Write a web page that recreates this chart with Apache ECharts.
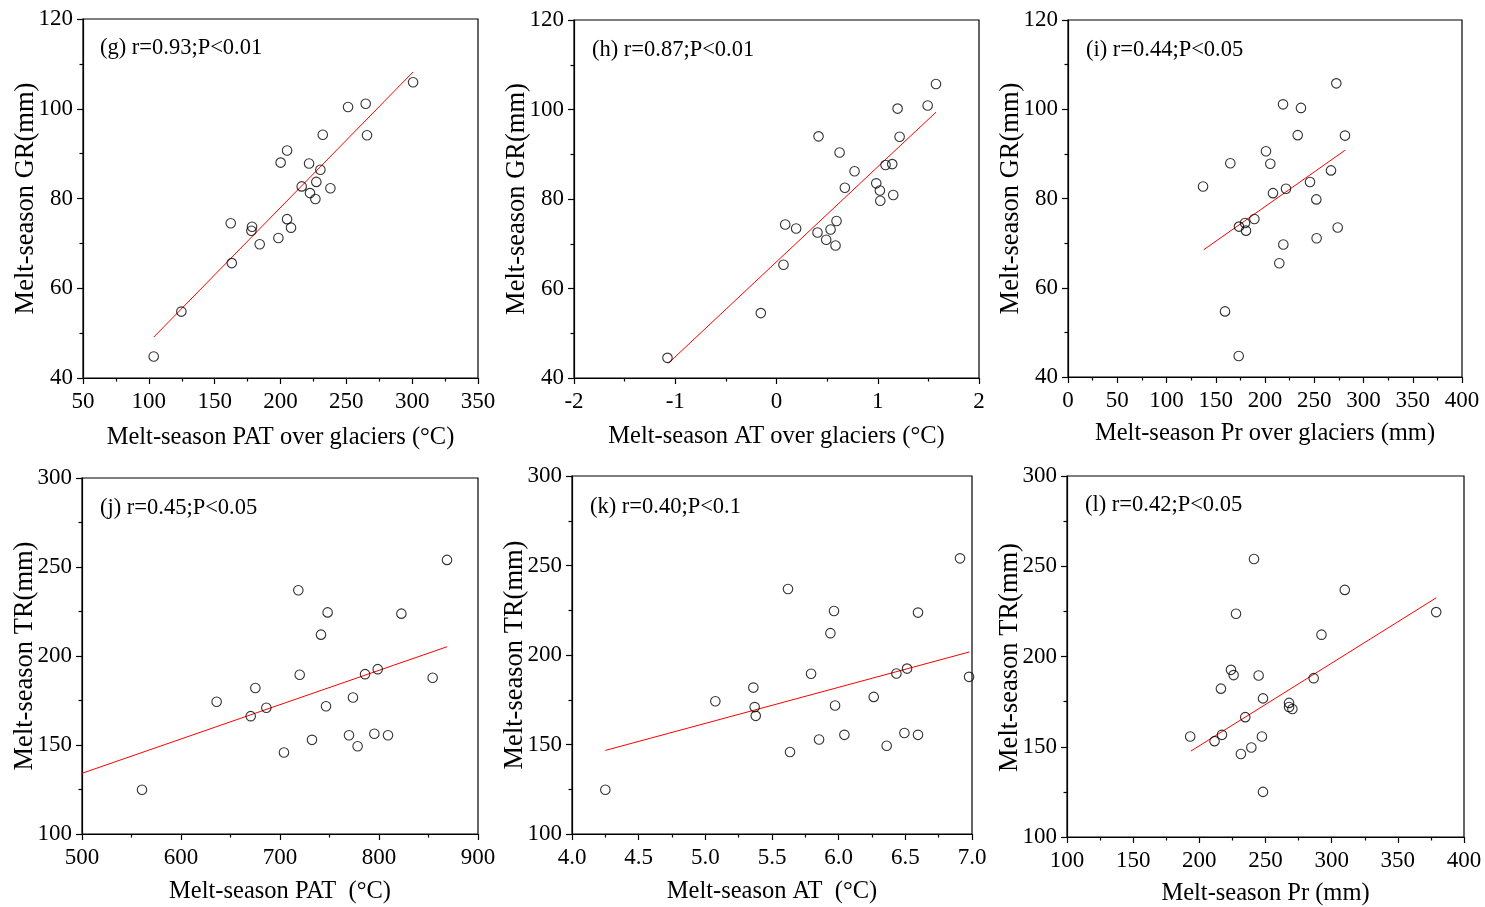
<!DOCTYPE html>
<html>
<head>
<meta charset="utf-8">
<script src="https://cdn.jsdelivr.net/npm/echarts@6/dist/echarts.min.js"></script>
<style>
  html, body { margin: 0; padding: 0; background: #fff; }
  #chart { width: 1485px; height: 907px; }
</style>
</head>
<body>
<div id="chart"></div>
<script>
// ---- Melt-season glacier runoff (GR) versus forcing over glaciers ----
const gPat = [103.7, 124.7, 162.2, 163.0, 178.4, 177.9, 184.2, 198.4, 200.1, 205.0, 205.0, 208.0, 216.1, 221.7, 222.4, 226.5, 227.2, 230.3, 232.1, 237.9, 251.3, 264.7, 265.7, 300.7];
const gGr  = [44.8, 54.8, 74.5, 65.6, 73.7, 72.8, 69.8, 71.2, 88.0, 90.7, 75.4, 73.5, 82.7, 87.8, 81.2, 79.9, 83.7, 86.4, 94.2, 82.3, 100.4, 101.1, 94.1, 105.9];
const gFit = [[103.7, 49.1], [300.7, 108.2]];

const hAt  = [-1.077, -0.155, 0.069, 0.086, 0.194, 0.405, 0.415, 0.491, 0.534, 0.583, 0.593, 0.623, 0.675, 0.771, 0.985, 1.021, 1.025, 1.077, 1.143, 1.153, 1.196, 1.216, 1.493, 1.575];
const hGr  = [44.5, 54.5, 65.3, 74.3, 73.4, 72.5, 94.0, 70.9, 73.2, 69.6, 75.1, 90.4, 82.5, 86.2, 83.5, 81.9, 79.6, 87.6, 87.8, 80.9, 100.2, 93.9, 100.9, 105.7];
const hFit = [[-1.068, 43.3], [1.575, 99.4]];

const iPr  = [137.1, 159.4, 164.8, 173.3, 173.6, 179.7, 180.7, 189.2, 201.0, 205.4, 208.1, 214.5, 218.3, 218.6, 221.3, 233.2, 236.5, 245.7, 252.1, 252.4, 267.0, 272.4, 273.8, 281.2];
const iGr  = [82.7, 54.7, 87.9, 44.7, 73.7, 74.5, 72.8, 75.4, 90.6, 87.8, 81.2, 65.5, 101.1, 69.7, 82.2, 94.2, 100.3, 83.7, 79.8, 71.1, 86.3, 105.8, 73.5, 94.1];
const iFit = [[137.7, 68.5], [281.2, 90.8]];

// ---- Melt-season total runoff (TR) versus basin-wide forcing ----
const jPat = [560.6, 636.0, 670.4, 675.1, 686.2, 704.0, 718.5, 719.9, 732.3, 741.4, 746.5, 748.1, 769.7, 773.7, 778.4, 785.9, 795.3, 798.7, 809.1, 822.6, 854.2, 868.7];
const jTr  = [124.9, 174.3, 166.2, 182.0, 170.9, 145.8, 236.9, 189.5, 152.9, 212.0, 171.8, 224.5, 155.5, 176.7, 149.3, 189.8, 156.3, 192.6, 155.5, 223.8, 187.8, 254.0];
const jFit = [[500, 134.1], [868.7, 205.2]];

const kAt  = [4.25, 5.075, 5.36, 5.37, 5.378, 5.62, 5.635, 5.793, 5.853, 5.938, 5.965, 5.973, 6.043, 6.263, 6.36, 6.433, 6.493, 6.513, 6.595, 6.595, 6.91, 6.978];
const kTr  = [124.7, 174.2, 181.8, 170.9, 166.0, 236.9, 145.8, 189.5, 152.8, 212.2, 224.6, 171.8, 155.4, 176.6, 149.3, 189.7, 156.4, 192.4, 223.7, 155.4, 254.0, 187.8];
const kFit = [[4.25, 146.7], [6.98, 201.7]];

const lPr  = [193.1, 211.5, 216.3, 217.1, 223.9, 225.9, 227.7, 231.4, 234.7, 239.3, 241.3, 244.8, 247.3, 248.1, 248.1, 267.8, 267.8, 270.3, 286.4, 292.3, 309.9, 379.0];
const lTr  = [155.7, 153.1, 182.2, 156.6, 192.6, 189.7, 223.7, 146.0, 166.4, 149.6, 254.0, 189.5, 155.7, 176.8, 125.0, 174.3, 172.0, 170.9, 188.0, 212.1, 236.9, 224.6];
const lFit = [[193.6, 147.6], [379.0, 232.5]];

// panel captions and axis names
const captions = ['(g) r=0.93;P<0.01', '(h) r=0.87;P<0.01', '(i) r=0.44;P<0.05',
                  '(j) r=0.45;P<0.05', '(k) r=0.40;P<0.1', '(l) r=0.42;P<0.05'];
const xNames = ['Melt-season PAT over glaciers (°C)', 'Melt-season AT over glaciers (°C)', 'Melt-season Pr over glaciers (mm)',
                'Melt-season PAT  (°C)', 'Melt-season AT  (°C)', 'Melt-season Pr (mm)'];
const yNames = ['Melt-season GR(mm)', 'Melt-season GR(mm)', 'Melt-season GR(mm)',
                'Melt-season TR(mm)', 'Melt-season TR(mm)', 'Melt-season TR(mm)'];
// axis ranges: [min, max, interval]
const xRanges = [[50, 350, 50], [-2, 2, 1], [0, 400, 50], [500, 900, 100], [4.0, 7.0, 0.5], [100, 400, 50]];
const yRanges = [[40, 120, 20], [40, 120, 20], [40, 120, 20], [100, 300, 50], [100, 300, 50], [100, 300, 50]];

const panels = [
  { x: gPat, y: gGr, fit: gFit },
  { x: hAt,  y: hGr, fit: hFit },
  { x: iPr,  y: iGr, fit: iFit },
  { x: jPat, y: jTr, fit: jFit },
  { x: kAt,  y: kTr, fit: kFit },
  { x: lPr,  y: lTr, fit: lFit }
];

// plot-area boxes in pixels
const boxes = [
  { left: 83,   top: 19,  width: 395, height: 359 },
  { left: 574,  top: 20,  width: 405, height: 358 },
  { left: 1068, top: 20,  width: 394, height: 357 },
  { left: 82,   top: 478, width: 396, height: 356 },
  { left: 572,  top: 476, width: 400, height: 358 },
  { left: 1067, top: 476, width: 397, height: 363 }
];
const captionPos = [[100, 37], [592, 39], [1086, 39], [100, 497], [590, 496], [1085, 494]];
const xNameGaps = [47, 46, 44, 45, 45, 44];
// centre of each rotated y title, x offset to the left of its axis
const yNameOffset = 57;

const FONT = '"Liberation Serif", "Times New Roman", serif';
const INK = '#000';

const grid = boxes.map(b => Object.assign({ show: true, borderColor: INK, borderWidth: 1.2, backgroundColor: 'transparent' }, b));

function axisCommon() {
  return {
    axisLine: { show: true, onZero: false, lineStyle: { color: INK, width: 1.2 } },
    axisTick: { show: true, inside: false, length: 6, lineStyle: { color: INK, width: 1.2 } },
    minorTick: { show: true, splitNumber: 2, length: 3.5, lineStyle: { color: INK, width: 1.2 } },
    splitLine: { show: false },
    minorSplitLine: { show: false }
  };
}

const xAxis = xRanges.map((r, i) => Object.assign(axisCommon(), {
  type: 'value', gridIndex: i, min: r[0], max: r[1], interval: r[2],
  name: xNames[i], nameLocation: 'middle', nameGap: xNameGaps[i],
  nameTextStyle: { fontFamily: FONT, fontSize: 24.5, color: INK },
  axisLabel: {
    fontFamily: FONT, fontSize: 23, color: INK, margin: 12,
    formatter: i === 4 ? (v => v.toFixed(1)) : (v => String(v))
  }
}));

const yAxis = yRanges.map((r, i) => Object.assign(axisCommon(), {
  type: 'value', gridIndex: i, min: r[0], max: r[1], interval: r[2],
  axisLabel: { fontFamily: FONT, fontSize: 23, color: INK, margin: 10 }
}));

// y titles are placed as rotated text so they can sit against the tick labels
const yTitles = boxes.map((b, i) => ({
  type: 'text',
  x: b.left - yNameOffset,
  y: b.top + b.height / 2,
  rotation: Math.PI / 2,
  style: {
    text: yNames[i], fill: INK,
    font: '26.5px ' + FONT,
    textAlign: 'center', textVerticalAlign: 'middle'
  }
}));

const series = [];
panels.forEach((p, i) => {
  series.push({
    type: 'line', xAxisIndex: i, yAxisIndex: i, data: p.fit,
    showSymbol: false, silent: true, z: 2,
    lineStyle: { color: '#ff0000', width: 1 }
  });
  series.push({
    type: 'scatter', xAxisIndex: i, yAxisIndex: i,
    data: p.x.map((v, k) => [v, p.y[k]]),
    symbol: 'circle', symbolSize: 9.5, z: 3,
    itemStyle: { color: 'rgba(255,255,255,0)', borderColor: INK, borderWidth: 1.1 }
  });
});

const title = captions.map((t, i) => ({
  text: t, left: captionPos[i][0], top: captionPos[i][1], padding: 0,
  textStyle: { fontFamily: FONT, fontSize: 22.5, fontWeight: 'normal', color: INK }
}));

const chart = echarts.init(document.getElementById('chart'), null, { renderer: 'canvas' });
chart.setOption({
  animation: false,
  backgroundColor: '#fff',
  title, grid, xAxis, yAxis, series,
  graphic: yTitles
});
</script>
</body>
</html>
